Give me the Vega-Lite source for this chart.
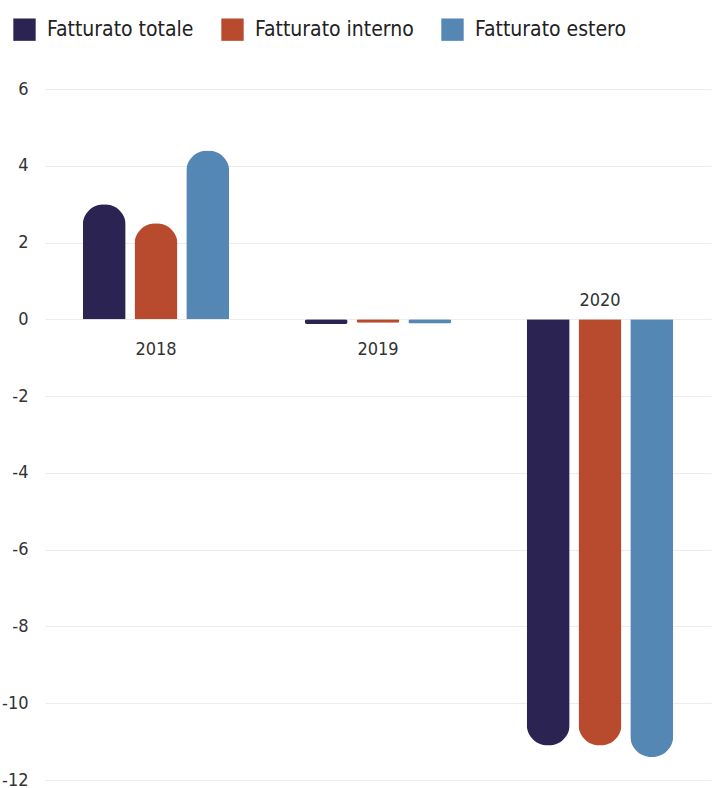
{
  "$schema": "https://vega.github.io/schema/vega-lite/v6.json",
  "autosize": {"type": "none"},
  "padding": {"left": 45, "top": 89, "right": 7, "bottom": 8},
  "width": 666,
  "height": 691,
  "background": "white",
  "config": {
    "font": "DejaVu Sans Condensed, Liberation Sans Narrow, sans-serif",
    "view": {"stroke": null}
  },
  "datasets": {
    "bars": [
      {"anno": "2018", "serie": "Fatturato totale", "valore": 3.0},
      {"anno": "2018", "serie": "Fatturato interno", "valore": 2.5},
      {"anno": "2018", "serie": "Fatturato estero", "valore": 4.4},
      {"anno": "2019", "serie": "Fatturato totale", "valore": -0.12},
      {"anno": "2019", "serie": "Fatturato interno", "valore": -0.09},
      {"anno": "2019", "serie": "Fatturato estero", "valore": -0.11},
      {"anno": "2020", "serie": "Fatturato totale", "valore": -11.1},
      {"anno": "2020", "serie": "Fatturato interno", "valore": -11.1},
      {"anno": "2020", "serie": "Fatturato estero", "valore": -11.4}
    ],
    "years": [
      {"anno": "2018", "pos": "sotto"},
      {"anno": "2019", "pos": "sotto"},
      {"anno": "2020", "pos": "sopra"}
    ]
  },
  "encoding": {
    "x": {
      "field": "anno",
      "type": "nominal",
      "scale": {"domain": ["2018", "2019", "2020"], "paddingInner": 0.34, "paddingOuter": 0.17},
      "axis": null
    },
    "y": {
      "type": "quantitative",
      "scale": {"domain": [-12, 6], "nice": false, "zero": true},
      "axis": {
        "title": null,
        "values": [-12, -10, -8, -6, -4, -2, 0, 2, 4, 6],
        "labelExpr": "datum.value + ''",
        "domain": false,
        "ticks": false,
        "labelPadding": 17,
        "labelFontSize": 18,
        "labelColor": "#333333",
        "gridColor": "#ececec",
        "gridWidth": 1
      }
    }
  },
  "layer": [
    {
      "data": {"name": "bars"},
      "transform": [{"filter": "datum.valore >= 1"}],
      "mark": {"type": "bar", "cornerRadiusTopLeft": 21, "cornerRadiusTopRight": 21},
      "encoding": {
        "xOffset": {
          "field": "serie",
          "type": "nominal",
          "sort": ["Fatturato totale", "Fatturato interno", "Fatturato estero"],
          "scale": {"domain": ["Fatturato totale", "Fatturato interno", "Fatturato estero"], "paddingInner": 0.17, "paddingOuter": 0}
        },
        "y": {"field": "valore", "type": "quantitative"},
        "color": {
          "field": "serie",
          "type": "nominal",
          "sort": ["Fatturato totale", "Fatturato interno", "Fatturato estero"],
          "scale": {
            "domain": ["Fatturato totale", "Fatturato interno", "Fatturato estero"],
            "range": ["#2b2453", "#b84a2e", "#5487b3"]
          },
          "legend": {
            "title": null,
            "orient": "none",
            "direction": "horizontal",
            "legendX": -32,
            "legendY": -71,
            "padding": 0,
            "symbolType": "square",
            "symbolSize": 500,
            "symbolStrokeWidth": 0,
            "symbolOpacity": 1,
            "labelFontSize": 21,
            "labelColor": "#222222",
            "labelOffset": 11,
            "columnPadding": 27,
            "labelLimit": 300
          }
        }
      }
    },
    {
      "data": {"name": "bars"},
      "transform": [{"filter": "datum.valore > -1 && datum.valore < 1"}],
      "mark": {"type": "bar", "cornerRadius": 21},
      "encoding": {
        "xOffset": {
          "field": "serie",
          "type": "nominal",
          "sort": ["Fatturato totale", "Fatturato interno", "Fatturato estero"],
          "scale": {"domain": ["Fatturato totale", "Fatturato interno", "Fatturato estero"], "paddingInner": 0.17, "paddingOuter": 0}
        },
        "y": {"field": "valore", "type": "quantitative"},
        "color": {"field": "serie", "type": "nominal", "sort": ["Fatturato totale", "Fatturato interno", "Fatturato estero"]}
      }
    },
    {
      "data": {"name": "bars"},
      "transform": [{"filter": "datum.valore <= -1"}],
      "mark": {"type": "bar", "cornerRadiusBottomLeft": 21, "cornerRadiusBottomRight": 21},
      "encoding": {
        "xOffset": {
          "field": "serie",
          "type": "nominal",
          "sort": ["Fatturato totale", "Fatturato interno", "Fatturato estero"],
          "scale": {"domain": ["Fatturato totale", "Fatturato interno", "Fatturato estero"], "paddingInner": 0.17, "paddingOuter": 0}
        },
        "y": {"field": "valore", "type": "quantitative"},
        "color": {"field": "serie", "type": "nominal", "sort": ["Fatturato totale", "Fatturato interno", "Fatturato estero"]}
      }
    },
    {
      "data": {"name": "years"},
      "transform": [{"filter": "datum.pos == 'sotto'"}],
      "mark": {"type": "text", "fontSize": 18, "color": "#333333", "baseline": "middle", "dy": 31},
      "encoding": {
        "y": {"datum": 0, "type": "quantitative"},
        "text": {"field": "anno"}
      }
    },
    {
      "data": {"name": "years"},
      "transform": [{"filter": "datum.pos == 'sopra'"}],
      "mark": {"type": "text", "fontSize": 18, "color": "#333333", "baseline": "middle", "dy": -18},
      "encoding": {
        "y": {"datum": 0, "type": "quantitative"},
        "text": {"field": "anno"}
      }
    }
  ]
}
